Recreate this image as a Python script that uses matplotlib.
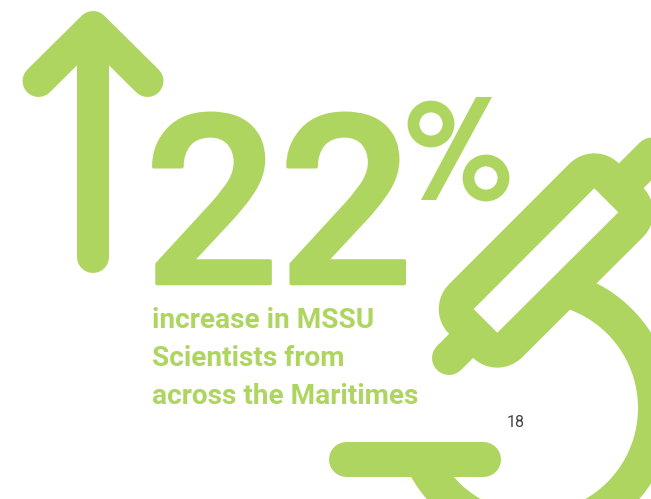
import matplotlib.pyplot as plt
import matplotlib.patheffects as pe
from matplotlib.patches import Circle, Polygon, Wedge

GREEN = '#afd561'
W, H = 651, 499

big_number = '22'
caption_lines = ['increase in MSSU', 'Scientists from', 'across the Maritimes']
page_number = '18'

plt.rcParams['font.family'] = ['Roboto', 'DejaVu Sans']

fig = plt.figure(figsize=(W / 100, H / 100), dpi=100)
ax = fig.add_axes([0, 0, 1, 1])
ax.set_xlim(0, W)
ax.set_ylim(H, 0)
ax.axis('off')


def stroke(xs, ys, lw, z=2):
    # lw given in image pixels, matplotlib wants points
    ax.plot(xs, ys, color=GREEN, lw=lw * 0.72, solid_capstyle='round',
            solid_joinstyle='round', zorder=z)


# arrow
stroke([93, 93], [28, 257], 32)
stroke([38.5, 93, 147.5], [81, 27, 81], 32)

# big number, thickened a bit with an outline
num = ax.text(144.5, 283.5, big_number, fontsize=170, fontweight='medium', color=GREEN,
              ha='left', va='baseline')
num.set_path_effects([pe.withStroke(linewidth=2.6, foreground=GREEN)])

# percent sign
ax.add_patch(Circle((431, 124), 17.5, fill=False, ec=GREEN, lw=11.8 * 0.72))
ax.add_patch(Circle((486, 178), 17.5, fill=False, ec=GREEN, lw=11.8 * 0.72))
ax.add_patch(Polygon([(476, 97), (492, 97), (436, 200), (421, 200)], color=GREEN, lw=0))

# caption
for txt, y in zip(caption_lines, [328, 366, 404]):
    ax.text(152, y, txt, fontsize=20.2, fontweight='bold', color=GREEN,
            ha='left', va='baseline')

ax.text(507, 427, page_number, fontsize=11.5, color='#444444', ha='left', va='baseline')

# microscope: ring, base, eyepiece, knob
ax.add_patch(Wedge((533, 408), 140, -70, 155, width=35, color=GREEN, lw=0, zorder=1))
stroke([346, 483], [458.5, 458.5], 35)
stroke([631, 700], [176, 107], 35)
stroke([449, 480], [358, 327], 34)

# tube: thick outline round the window, window painted over it
tube = [(594.3, 188.3), (618.3, 212.3), (497.3, 332.7), (473.7, 309)]
ax.add_patch(Polygon(tube, closed=True, fc=GREEN, ec=GREEN, lw=70 * 0.72,
                     joinstyle='round', zorder=3))
ax.add_patch(Polygon(tube, closed=True, fc='white', lw=0, zorder=4))

fig.savefig('out.png', dpi=100)
